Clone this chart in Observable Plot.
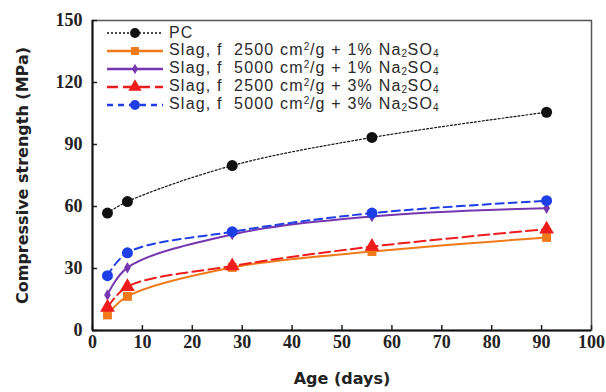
<!DOCTYPE html>
<html>
<head>
<meta charset="utf-8">
<script src="https://cdn.jsdelivr.net/npm/d3@7"></script>
<script src="https://cdn.jsdelivr.net/npm/@observablehq/plot@0.6"></script>
<style>
  body { margin: 0; background: #fff; }
  #wrap { position: relative; width: 606px; height: 392px; }
  #legend { position: absolute; left: 106px; top: 24px; font-family: "Liberation Sans", sans-serif; font-size: 16px; letter-spacing: 1.2px; color: #2a2a2a; }
  .row { display: flex; align-items: center; height: 18px; line-height: 18px; white-space: nowrap; }
  .row svg { margin-right: 5px; flex: none; }
  .sub, .sup { font-size: 10px; position: relative; vertical-align: baseline; letter-spacing: 0.5px; }
  .sub { top: 2px; }
  .sup { top: -5px; }
</style>
</head>
<body>
<div id="wrap"><div id="legend"></div></div>
<script>
const days = [3, 7, 28, 56, 91];
const seriesNames = [
  "PC",
  "Slag, f 2500 cm2/g + 1% Na2SO4",
  "Slag, f 5000 cm2/g + 1% Na2SO4",
  "Slag, f 2500 cm2/g + 3% Na2SO4",
  "Slag, f 5000 cm2/g + 3% Na2SO4"
];
const pc        = [56.8, 62.4, 79.8, 93.4, 105.6];
const s2500_1   = [7.5, 16.5, 30.5, 38.2, 45.0];
const s5000_1   = [17.2, 30.4, 46.5, 55.2, 59.2];
const s2500_3   = [11.2, 21.2, 31.2, 40.6, 49.0];
const s5000_3   = [26.5, 37.6, 47.8, 56.8, 62.8];
const xTicks = [0, 10, 20, 30, 40, 50, 60, 70, 80, 90, 100];
const yTicks = [0, 30, 60, 90, 120, 150];

const styles = [
  {color: "#111", width: 1.2, dash: "2,2", symbol: "circle", r: 5.5},
  {color: "#F07A1A", width: 2, dash: null, symbol: "square", r: 5},
  {color: "#7536B0", width: 2, dash: null, symbol: "diamond", r: 3.5},
  {color: "#EE1C1C", width: 2, dash: "11,5", symbol: "triangle", r: 5.5},
  {color: "#1E3FE6", width: 2, dash: "8,5", symbol: "circle", r: 5.5}
];
const allValues = [pc, s2500_1, s5000_1, s2500_3, s5000_3];
const data = allValues.map((vals, i) => days.map((d, j) => ({day: d, value: vals[j], series: seriesNames[i]})));

const marks = [];
data.forEach((rows, i) => {
  const s = styles[i];
  marks.push(Plot.line(rows, {x: "day", y: "value", stroke: s.color, strokeWidth: s.width, strokeDasharray: s.dash, curve: "catmull-rom"}));
  marks.push(Plot.dot(rows, {x: "day", y: "value", fill: s.color, stroke: "none", symbol: s.symbol, r: s.r}));
});

const chart = Plot.plot({
  width: 606,
  height: 392,
  marginLeft: 92,
  marginRight: 15,
  marginTop: 20,
  marginBottom: 62,
  style: {fontFamily: "Lato, sans-serif", background: "white", color: "#222"},
  x: {domain: [0, 100]},
  y: {domain: [0, 150]},
  marks: [
    Plot.frame({stroke: "#555", strokeWidth: 1.5}),
    Plot.axisX(xTicks, {tickSize: -5, tickFormat: () => "", label: null, strokeWidth: 1.5}),
    Plot.axisY(yTicks, {tickSize: -5, tickFormat: () => "", label: null, strokeWidth: 1.5}),
    Plot.axisX(xTicks, {tickSize: 0, tickPadding: 5, fontSize: 18, fontWeight: "bold", fontFamily: "Liberation Serif, serif",
      label: "Age (days)", labelAnchor: "center", labelOffset: 53, labelArrow: "none"}),
    Plot.axisY(yTicks, {tickSize: 0, tickPadding: 10, fontSize: 18, fontWeight: "bold", fontFamily: "Liberation Serif, serif",
      label: "Compressive strength (MPa)", labelAnchor: "center", labelOffset: 76, labelArrow: "none"}),
    Plot.ruleX([0], {stroke: "#111", strokeWidth: 2}),
    Plot.ruleY([0], {stroke: "#111", strokeWidth: 2}),
    ...marks
  ]
});
document.getElementById("wrap").prepend(chart);
d3.select(chart).selectAll("[aria-label='x-axis label'] text, [aria-label='y-axis label'] text")
  .style("font-family", "'DejaVu Sans', sans-serif").style("font-size", "16px").style("font-weight", "bold").style("fill", "#222");
d3.select(chart).selectAll("[aria-label='x-axis tick label'] text, [aria-label='y-axis tick label'] text").style("fill", "#222");

// legend
const legendHTML = [
  "PC",
  "Slag, f&nbsp; 2500 cm<span class='sup'>2</span>/g + 1% Na<span class='sub'>2</span>SO<span class='sub'>4</span>",
  "Slag, f&nbsp; 5000 cm<span class='sup'>2</span>/g + 1% Na<span class='sub'>2</span>SO<span class='sub'>4</span>",
  "Slag, f&nbsp; 2500 cm<span class='sup'>2</span>/g + 3% Na<span class='sub'>2</span>SO<span class='sub'>4</span>",
  "Slag, f&nbsp; 5000 cm<span class='sup'>2</span>/g + 3% Na<span class='sub'>2</span>SO<span class='sub'>4</span>"
];
const legendDash = ["2,2", null, null, "11,5", "6,5"];
const legend = d3.select("#legend");
styles.forEach((s, i) => {
  const row = legend.append("div").attr("class", "row");
  const svg = row.append("svg").attr("width", 58).attr("height", 18);
  svg.append("line").attr("x1", 1).attr("x2", 57).attr("y1", 9).attr("y2", 9)
    .attr("stroke", s.color).attr("stroke-width", s.width + 0.5).attr("stroke-dasharray", legendDash[i]);
  const sym = {circle: d3.symbolCircle, square: d3.symbolSquare, diamond: d3.symbolDiamond, triangle: d3.symbolTriangle}[s.symbol];
  svg.append("path").attr("transform", "translate(29,9)")
    .attr("d", d3.symbol(sym, Math.PI * s.r * s.r * 0.8)()).attr("fill", s.color);
  row.append("span").html(legendHTML[i]);
});
</script>
</body>
</html>
